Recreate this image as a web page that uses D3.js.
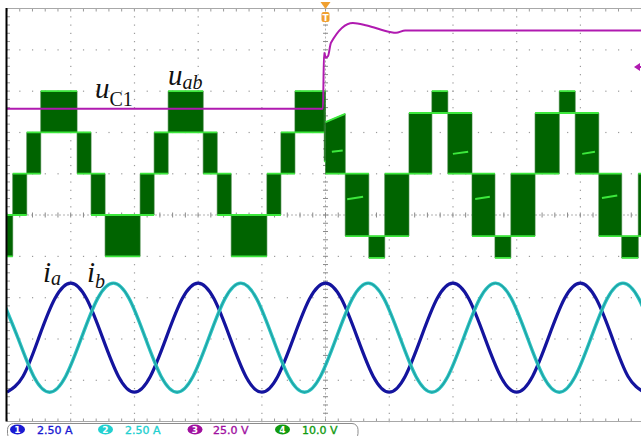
<!doctype html>
<html>
  <head>
    <meta charset="utf-8">
    <title>uab / uC1 / ia ib scope capture</title>
    <script src="https://cdnjs.cloudflare.com/ajax/libs/d3/7.8.5/d3.min.js"></script>
    <style>
      body { margin: 0; background: #fff; }
      svg { display: block; }
    </style>
  </head>
  <body>
    <div id="scope"></div>
    <script>
      // time axis in ms, 10 ms/div, 10 divisions
      const tIa = d3.range(0, 100.01, 2.5);
      const ia = [-3.3,-2.35,0,2.35,3.3,2.35,0,-2.35, -3.3,-2.35,0,2.35,3.3,2.35,0,-2.35,
                  -3.3,-2.35,0,2.35,3.3,2.35,0,-2.35, -3.3,-2.35,0,2.35,3.3,2.35,0,-2.35,
                  -3.3,-2.35,0,2.35,3.3,2.35,0,-2.35, -3.3];
      const tIb = d3.range(-0.8, 102, 2.5);
      const ib = [2.35,0,-2.35,-3.3,-2.35,0,2.35,3.3, 2.35,0,-2.35,-3.3,-2.35,0,2.35,3.3,
                  2.35,0,-2.35,-3.3,-2.35,0,2.35,3.3, 2.35,0,-2.35,-3.3,-2.35,0,2.35,3.3,
                  2.35,0,-2.35,-3.3,-2.35,0,2.35,3.3, 2.35,0];

      // capacitor voltage uC1 (V)
      const tUc = [0, 49.6, 49.77, 50.08, 50.4, 50.86, 54.3, 56.5, 60.1, 61.07, 62.5, 100];
      const uc  = [100, 100, 134, 131, 132, 140, 152, 150.5, 146.5, 146, 147.5, 147.5];

      // uab PWM bands: [t start, t end, low level, high level, high level at end]
      const uabBands = [
        [0, 0.9, -20, -10], [0.9, 3.1, -10, 0], [3.1, 5.3, 0, 10], [5.3, 11.0, 10, 20],
        [11.0, 13.2, 0, 10], [13.2, 15.4, -10, 0], [15.4, 20.9, -20, -10], [20.9, 23.1, -10, 0],
        [23.1, 25.3, 0, 10], [25.3, 30.8, 10, 20], [30.8, 33.0, 0, 10], [33.0, 35.2, -10, 0],
        [35.2, 40.8, -20, -10], [40.8, 43.0, -10, 0], [43.0, 45.2, 0, 10], [45.2, 49.8, 10, 20],
        [49.8, 50.0, 3, 20],
        [50.0, 53.1, 0, 12.5, 14.5], [53.1, 56.8, -15.1, 0], [56.8, 59.3, -20.4, -15.1],
        [59.3, 63.1, -15.1, 0], [63.1, 66.7, 0, 14.7], [66.7, 69.2, 14.7, 20],
        [69.2, 73.0, 0, 14.7], [73.0, 76.6, -15.1, 0], [76.6, 79.1, -20.4, -15.1],
        [79.1, 82.9, -15.1, 0], [82.9, 86.7, 0, 14.7], [86.7, 89.2, 14.7, 20],
        [89.2, 92.9, 0, 14.7], [92.9, 96.5, -15.1, 0], [96.5, 99.1, -20.4, -15.1],
        [99.1, 100, -15.1, 0]
      ];
      // short bright segments inside some bands: [t0, v0, t1, v1]
      const uabMarks = [
        [51.0, 5.3, 52.7, 5.6], [53.4, -6.2, 55.9, -5.6],
        [70.0, 4.8, 72.4, 5.3], [73.5, -6.1, 75.8, -5.6],
        [90.3, 4.8, 92.3, 5.3], [93.4, -5.9, 95.8, -5.3]
      ];

      // channel settings: scale per div and position (div)
      const chIds = ['1', '2', '3', '4'];
      const chScaleText = ['2.50 A', '2.50 A', '25.0 V', '10.0 V'];
      const chPerDiv = [2.5, 2.5, 25, 10];
      const chPos = [-2.97, -2.97, -1.43, 1.0];
      const chColors = ['#1a1ad2', '#22d0d0', '#a0109f', '#119a11'];

      const W = 641, H = 436;
      const gLeft = 7, gRight = 644, gTop = 8.5, gBottom = 421.5;

      const svg = d3.select('#scope').append('svg')
        .attr('width', W).attr('height', H);

      const xDiv = d3.scaleLinear().domain([0, 10]).range([gLeft, gRight]);
      const yDiv = d3.scaleLinear().domain([-5, 5]).range([gBottom, gTop]);
      const x = d3.scaleLinear().domain([0, 100]).range([gLeft, gRight]);
      const yCh = i => v => yDiv(v / chPerDiv[i] + chPos[i]);

      // ---- graticule
      const grid = svg.append('g');
      const minor = d3.range(0, 10.001, 0.2);
      const minorY = d3.range(-5, 5.001, 0.2);
      for (let k = 1; k < 10; k++) {
        if (k === 5) continue;
        grid.selectAll(null).data(minorY).join('rect')
          .attr('x', xDiv(k) - 0.5).attr('y', d => yDiv(d) - 0.5)
          .attr('width', 1.2).attr('height', 1.2).attr('fill', '#9a9a9a');
      }
      for (let k = -4; k < 5; k++) {
        if (k === 0) continue;
        grid.selectAll(null).data(minor).join('rect')
          .attr('x', d => xDiv(d) - 0.5).attr('y', yDiv(k) - 0.5)
          .attr('width', 1.2).attr('height', 1.2).attr('fill', '#9a9a9a');
      }
      // center axes with ticks
      grid.append('line').attr('x1', gLeft).attr('x2', W).attr('y1', yDiv(0)).attr('y2', yDiv(0))
        .attr('stroke', '#b0b0b0').attr('stroke-dasharray', '2,2');
      grid.append('line').attr('x1', xDiv(5)).attr('x2', xDiv(5)).attr('y1', gTop).attr('y2', gBottom)
        .attr('stroke', '#b0b0b0').attr('stroke-dasharray', '2,2');
      grid.selectAll(null).data(minor).join('line')
        .attr('x1', d => xDiv(d)).attr('x2', d => xDiv(d))
        .attr('y1', yDiv(0) - 2.5).attr('y2', yDiv(0) + 2.5).attr('stroke', '#8a8a8a');
      grid.selectAll(null).data(minorY).join('line')
        .attr('y1', d => yDiv(d)).attr('y2', d => yDiv(d))
        .attr('x1', xDiv(5) - 2.5).attr('x2', xDiv(5) + 2.5).attr('stroke', '#8a8a8a');
      // frame ticks
      grid.selectAll(null).data(minor).join('line')
        .attr('x1', d => xDiv(d)).attr('x2', d => xDiv(d))
        .attr('y1', gTop).attr('y2', gTop + 3).attr('stroke', '#9a9a9a');
      grid.selectAll(null).data(minor).join('line')
        .attr('x1', d => xDiv(d)).attr('x2', d => xDiv(d))
        .attr('y1', gBottom - 3).attr('y2', gBottom).attr('stroke', '#9a9a9a');
      grid.selectAll(null).data(minorY).join('line')
        .attr('y1', d => yDiv(d)).attr('y2', d => yDiv(d))
        .attr('x1', gLeft).attr('x2', gLeft + 3).attr('stroke', '#9a9a9a');
      grid.append('line').attr('x1', gLeft).attr('x2', W).attr('y1', gTop).attr('y2', gTop)
        .attr('stroke', '#a8a8a8');
      grid.append('line').attr('x1', gLeft).attr('x2', W).attr('y1', gBottom).attr('y2', gBottom)
        .attr('stroke', '#a8a8a8');

      svg.append('clipPath').attr('id', 'plot')
        .append('rect').attr('x', gLeft).attr('y', gTop).attr('width', W - gLeft).attr('height', gBottom - gTop);
      const plot = svg.append('g').attr('clip-path', 'url(#plot)');

      // ---- uab (ch4)
      const y4 = yCh(3);
      const bandData = uabBands.map(b => [
        { t: b[0], lo: b[2], hi: b[3] },
        { t: b[1], lo: b[2], hi: b.length > 4 ? b[4] : b[3] }
      ]);
      const bandArea = d3.area().x(d => x(d.t)).y0(d => y4(d.lo)).y1(d => y4(d.hi));
      plot.append('g').selectAll('path').data(bandData).join('path')
        .attr('d', bandArea).attr('fill', '#006400')
        .attr('stroke', '#2f7a2f').attr('stroke-width', 0.6);
      const edge = d3.line().x(d => x(d.t)).y(d => d.v);
      plot.append('g').selectAll('path').data(bandData).join('path')
        .attr('d', d => edge([{ t: d[0].t, v: y4(d[0].hi) }, { t: d[1].t, v: y4(d[1].hi) }]))
        .attr('fill', 'none').attr('stroke', '#3ce83c').attr('stroke-width', 1.8);
      plot.append('g').selectAll('path').data(bandData).join('path')
        .attr('d', d => edge([{ t: d[0].t, v: y4(d[0].lo) }, { t: d[1].t, v: y4(d[1].lo) }]))
        .attr('fill', 'none').attr('stroke', '#3ce83c').attr('stroke-width', 1.8);
      plot.append('g').selectAll('line').data(uabMarks).join('line')
        .attr('x1', d => x(d[0])).attr('y1', d => y4(d[1]))
        .attr('x2', d => x(d[2])).attr('y2', d => y4(d[3]))
        .attr('stroke', '#3ce83c').attr('stroke-width', 2);

      // ---- uC1 (ch3)
      const y3 = yCh(2);
      plot.append('path')
        .datum(tUc.map((t, i) => [t, uc[i]]))
        .attr('d', d3.line().x(d => x(d[0])).y(d => y3(d[1])).curve(d3.curveMonotoneX))
        .attr('fill', 'none').attr('stroke', '#b01ab0').attr('stroke-width', 2);

      // ---- currents
      const y1 = yCh(0), y2 = yCh(1);
      const sine = d3.line().curve(d3.curveNatural);
      plot.append('path')
        .datum(tIa.map((t, i) => [x(t), y1(ia[i])]))
        .attr('d', sine).attr('fill', 'none').attr('stroke', '#14149e').attr('stroke-width', 3.2);
      plot.append('path')
        .datum(tIb.map((t, i) => [x(t), y2(ib[i])]))
        .attr('d', sine).attr('fill', 'none').attr('stroke', '#2cc4c4').attr('stroke-width', 3.4);
      plot.append('path')
        .datum(tIb.map((t, i) => [x(t), y2(ib[i])]))
        .attr('d', sine).attr('fill', 'none').attr('stroke', '#1f9e9e').attr('stroke-width', 1.2);

      // left frame edge
      svg.append('line').attr('x1', gLeft - 0.5).attr('x2', gLeft - 0.5).attr('y1', gTop - 0.5).attr('y2', gBottom)
        .attr('stroke', '#000').attr('stroke-width', 2);

      // trigger marker
      const tx = xDiv(5);
      svg.append('path').attr('d', `M${tx - 5},2 L${tx + 5},2 L${tx},9 Z`).attr('fill', '#f0a030');
      svg.append('rect').attr('x', tx - 4).attr('y', 12).attr('width', 8).attr('height', 10)
        .attr('rx', 2).attr('fill', '#f0a030');
      svg.append('text').attr('x', tx).attr('y', 20.5).attr('text-anchor', 'middle')
        .attr('font-family', 'DejaVu Sans').attr('font-size', 9).attr('font-weight', 'bold')
        .attr('fill', '#fff').text('T');
      // trigger level arrow on right
      svg.append('path').attr('d', 'M634,67 L640,63 L640,71 Z').attr('fill', '#b01ab0');
      svg.append('line').attr('x1', 638).attr('x2', 641).attr('y1', 67).attr('y2', 67)
        .attr('stroke', '#b01ab0').attr('stroke-width', 2);

      // ---- trace labels
      const labels = [
        { x: 95, y: 98, main: 'u', sub: 'C1', subItalic: false, dy: 8 },
        { x: 168, y: 85, main: 'u', sub: 'ab', subItalic: true, dy: 4 },
        { x: 43, y: 282, main: 'i', sub: 'a', subItalic: true, dy: 3 },
        { x: 87, y: 282, main: 'i', sub: 'b', subItalic: true, dy: 6 }
      ];
      const lab = svg.selectAll('text.lab').data(labels).join('text')
        .attr('class', 'lab')
        .attr('x', d => d.x).attr('y', d => d.y)
        .attr('font-family', 'Liberation Serif, Times New Roman, serif')
        .attr('fill', '#111');
      lab.append('tspan').attr('font-style', 'italic').attr('font-size', 29).text(d => d.main);
      lab.append('tspan').attr('dy', d => d.dy).attr('font-size', 20)
        .attr('font-style', d => d.subItalic ? 'italic' : 'normal').text(d => d.sub);

      // ---- channel readout bar
      const bar = svg.append('g');
      bar.append('rect').attr('x', 7.5).attr('y', 423.5).attr('width', 350.5).attr('height', 16)
        .attr('rx', 6).attr('fill', '#fff').attr('stroke', '#8c8c8c');
      const badgeX = [17.5, 105.5, 195, 282.5];
      const textX = [37, 125, 213, 302];
      const items = bar.selectAll('g').data(chIds).join('g');
      items.append('ellipse').attr('cx', (d, i) => badgeX[i]).attr('cy', 429.5)
        .attr('rx', 7.5).attr('ry', 5).attr('fill', (d, i) => chColors[i]);
      items.append('text').attr('x', (d, i) => badgeX[i]).attr('y', 433)
        .attr('text-anchor', 'middle').attr('font-family', 'DejaVu Sans')
        .attr('font-size', 9).attr('font-weight', 'bold').attr('fill', '#fff').text(d => d);
      items.append('text').attr('x', (d, i) => textX[i]).attr('y', 433.5)
        .attr('font-family', 'DejaVu Sans').attr('font-size', 11)
        .attr('fill', (d, i) => chColors[i])
        .attr('stroke', (d, i) => chColors[i]).attr('stroke-width', 0.35)
        .text((d, i) => chScaleText[i]);
    </script>
  </body>
</html>
